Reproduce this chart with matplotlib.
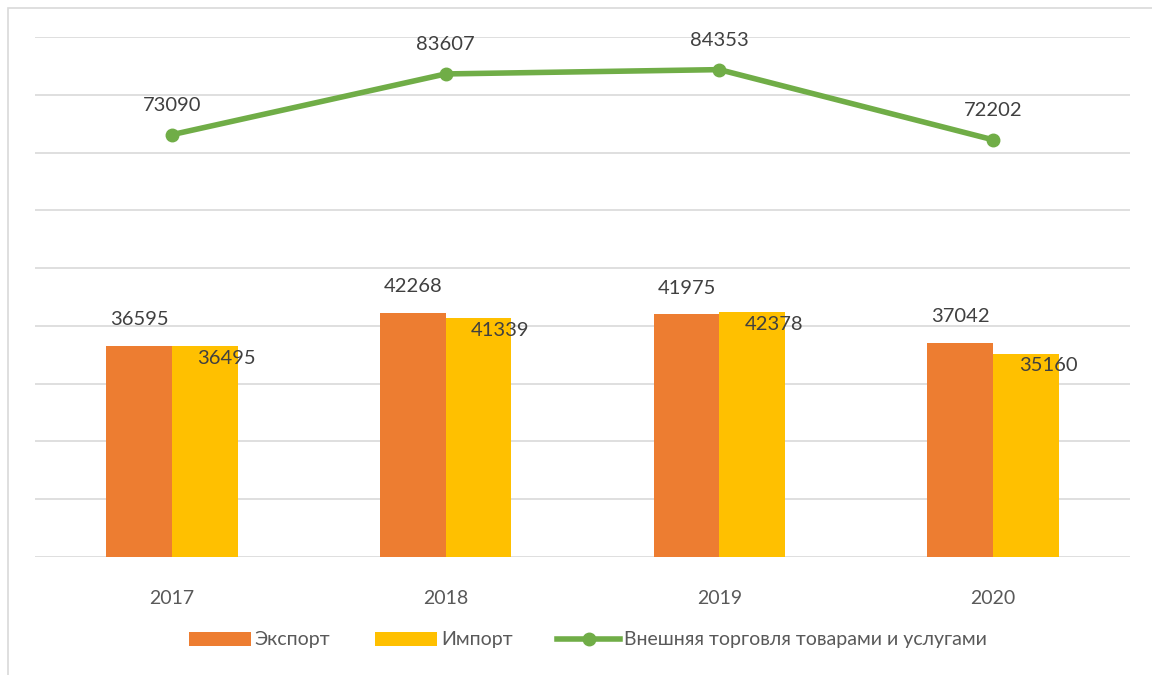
import numpy as np
import matplotlib.pyplot as plt
from matplotlib.patches import Rectangle

years = ['2017', '2018', '2019', '2020']
export = [36595, 42268, 41975, 37042]
imports = [36495, 41339, 42378, 35160]
total = [73090, 83607, 84353, 72202]

plt.rcParams['font.family'] = ['Lato', 'DejaVu Sans']
txt = '#404040'

fig = plt.figure(figsize=(11.52, 6.75), dpi=100)
# light chart border
fig.patches.append(Rectangle((8/1152, -0.1), 1.2, 1 - 8/675 + 0.1, transform=fig.transFigure,
                             fill=False, edgecolor='#d9d9d9', lw=1.2))
ax = fig.add_axes([35/1152, 1 - 557/675, 1095/1152, 520/675])

x = np.arange(len(years))
w = 0.24
b1 = ax.bar(x - w/2, export, w, color='#ED7D31', label='Экспорт', zorder=2)
b2 = ax.bar(x + w/2, imports, w, color='#FFC000', label='Импорт', zorder=2)
ln, = ax.plot(x, total, color='#70AD47', lw=4, marker='o', ms=9,
              label='Внешняя торговля товарами и услугами', zorder=3)

fs = 14.5
for i in range(len(years)):
    ax.annotate(str(export[i]), (x[i] - w/2, export[i]), xytext=(0, 26), textcoords='offset pixels',
                ha='center', va='center', fontsize=fs, color=txt)
    ax.annotate(str(imports[i]), (x[i] + w/2, imports[i]), xytext=(22, -12), textcoords='offset pixels',
                ha='center', va='center', fontsize=fs, color=txt)
    ax.annotate(str(total[i]), (x[i], total[i]), xytext=(0, 29), textcoords='offset pixels',
                ha='center', va='center', fontsize=fs, color=txt)

ax.set_xlim(-0.5, 3.5)
ax.set_ylim(0, 90000)
ax.set_yticks(np.arange(0, 90001, 10000))
ax.yaxis.grid(True, color='#d9d9d9', lw=1.2, zorder=0)
ax.set_axisbelow(True)
ax.tick_params(axis='y', left=False, labelleft=False)
ax.tick_params(axis='x', length=0, pad=24, labelsize=14, labelcolor='#595959')
ax.set_xticks(x)
ax.set_xticklabels(years)
for s in ax.spines.values():
    s.set_visible(False)

fig.legend(handles=[b1, b2, ln], loc='center', bbox_to_anchor=(0.51, 1 - 640/675), ncol=3, frameon=False,
           fontsize=14, labelcolor='#595959', handlelength=3.2, handletextpad=0.2, columnspacing=2.3)

fig.savefig('out.png', dpi=100)
